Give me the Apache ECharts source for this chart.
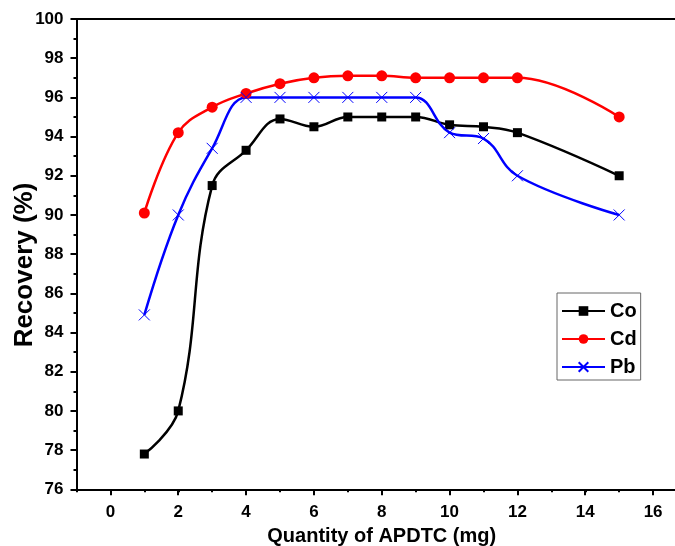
<!DOCTYPE html>
<html>
<head>
<meta charset="utf-8">
<script src="https://cdn.jsdelivr.net/npm/echarts@6/dist/echarts.min.js"></script>
<style>
  html, body { margin: 0; padding: 0; background: #fff; }
  #chart { width: 675px; height: 546px; }
</style>
</head>
<body>
<div id="chart"></div>
<script>
// APDTC quantity (mg)
const quantity = [1, 2, 3, 4, 5, 6, 7, 8, 9, 10, 11, 12, 15];
// recovery (%)
const coRecovery = [77.8, 80.0, 91.5, 93.3, 94.9, 94.5, 95.0, 95.0, 95.0, 94.6, 94.5, 94.2, 92.0];
const cdRecovery = [90.1, 94.2, 95.5, 96.2, 96.7, 97.0, 97.1, 97.1, 97.0, 97.0, 97.0, 97.0, 95.0];
const pbRecovery = [84.9, 90.0, 93.4, 96.0, 96.0, 96.0, 96.0, 96.0, 96.0, 94.2, 93.9, 92.0, 90.0];
const seriesNames = ['Co', 'Cd', 'Pb'];

const font = "'Liberation Sans', Arial, sans-serif";
const unit = 33.9;   // px per mg
const left = 76.5;
const right = -12;   // plot runs off the right edge of the picture
const xMax = 17;

const pairs = ys => quantity.map((x, i) => [x, ys[i]]);

const myChart = echarts.init(document.getElementById('chart'));

const option = {
  animation: false,
  textStyle: { fontFamily: font },
  grid: [
    { left: left, right: right, top: 19, bottom: 56.7, outerBoundsMode: 'none' },
    // second grid only carries the major ticks/labels of the x axis
    { left: left + unit, right: right, top: 19, bottom: 56.7, outerBoundsMode: 'none' },
  ],
  legend: {
    orient: 'vertical',
    left: 557,
    top: 293,
    itemWidth: 43,
    itemHeight: 12,
    itemGap: 8,
    padding: [8, 4, 3, 4],
    borderColor: '#666',
    borderWidth: 1,
    textStyle: { fontSize: 20, fontWeight: 'bold', color: '#000', fontFamily: font },
    data: seriesNames,
  },
  graphic: [
    {
      type: 'text',
      x: 24.5,
      y: 265,
      rotation: Math.PI / 2,
      style: {
        text: 'Recovery (%)',
        font: "bold 26px 'Liberation Sans', Arial, sans-serif",
        fill: '#000',
        align: 'center',
        verticalAlign: 'middle',
      },
    },
  ],
  xAxis: [
    {
      type: 'value',
      gridIndex: 0,
      min: -1,
      max: xMax,
      interval: 1,
      name: 'Quantity of APDTC (mg)',
      nameLocation: 'middle',
      nameGap: 37,
      nameMoveOverlap: false,
      nameTextStyle: { fontSize: 20, fontWeight: 'bold', color: '#000', fontFamily: font },
      axisLine: { onZero: false, lineStyle: { color: '#000', width: 2 } },
      axisTick: { length: 3, lineStyle: { color: '#000', width: 2 } },
      axisLabel: { show: false },
      splitLine: { show: false },
    },
    {
      type: 'value',
      gridIndex: 0,
      position: 'top',
      min: -1,
      max: xMax,
      axisLine: { onZero: false, lineStyle: { color: '#000', width: 2 } },
      axisTick: { show: false },
      axisLabel: { show: false },
      splitLine: { show: false },
    },
    {
      type: 'value',
      gridIndex: 1,
      min: 0,
      max: xMax,
      interval: 2,
      axisLine: { show: false, onZero: false },
      axisTick: { length: 6, lineStyle: { color: '#000', width: 2 } },
      axisLabel: {
        margin: 15,
        fontSize: 17,
        fontWeight: 'bold',
        color: '#000',
        fontFamily: font,
        formatter: v => (v % 2 === 0 ? String(v) : ''),
      },
      splitLine: { show: false },
    },
  ],
  yAxis: [
    {
      type: 'value',
      gridIndex: 0,
      min: 76,
      max: 100,
      interval: 2,
      axisLine: { show: true, onZero: false, lineStyle: { color: '#000', width: 2 } },
      axisTick: { show: true, length: 6, lineStyle: { color: '#000', width: 2 } },
      minorTick: { show: true, splitNumber: 2, length: 3, lineStyle: { color: '#000', width: 2 } },
      axisLabel: { margin: 13, fontSize: 17, fontWeight: 'bold', color: '#000', fontFamily: font },
      splitLine: { show: false },
    },
    {
      type: 'value',
      gridIndex: 1,
      min: 76,
      max: 100,
      show: false,
    },
  ],
  series: [
    {
      name: 'Co',
      type: 'line',
      xAxisIndex: 0,
      yAxisIndex: 0,
      smooth: 0.4,
      symbol: 'rect',
      symbolSize: 9,
      color: '#000',
      lineStyle: { width: 2.5 },
      data: pairs(coRecovery),
    },
    {
      name: 'Cd',
      type: 'line',
      xAxisIndex: 0,
      yAxisIndex: 0,
      smooth: 0.4,
      symbol: 'circle',
      symbolSize: 11,
      color: '#ff0000',
      lineStyle: { width: 2.5 },
      data: pairs(cdRecovery),
    },
    {
      name: 'Pb',
      type: 'line',
      xAxisIndex: 0,
      yAxisIndex: 0,
      smooth: 0.4,
      symbol: 'path://M0,0L10,10M10,0L0,10',
      symbolSize: 11,
      color: '#0000ff',
      itemStyle: { borderColor: '#0000ff', borderWidth: 1 },
      lineStyle: { width: 2.5 },
      data: pairs(pbRecovery),
    },
  ],
};

myChart.setOption(option);
</script>
</body>
</html>
